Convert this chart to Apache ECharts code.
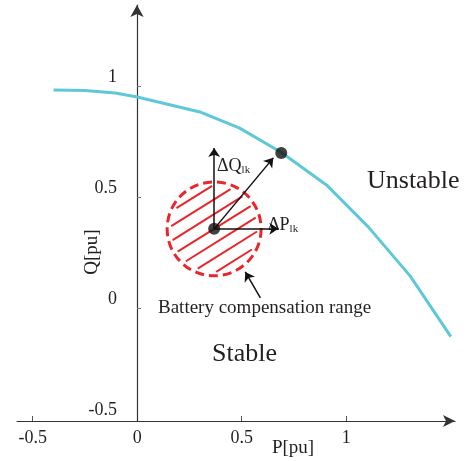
<!DOCTYPE html>
<html>
<head>
<meta charset="utf-8">
<script src="https://cdn.jsdelivr.net/npm/echarts@6/dist/echarts.min.js"></script>
<style>
  html, body { margin: 0; padding: 0; background: #fff; }
  #main { width: 468px; height: 461px; }
</style>
</head>
<body>
<div id="main"></div>
<script>
// 稳定边界曲线 (P, Q)
var curveP = [-0.40, -0.25, -0.105, 0, 0.30, 0.49, 0.69, 0.91, 1.105, 1.305, 1.50];
var curveQ = [0.982, 0.98, 0.968, 0.95, 0.883, 0.81, 0.70, 0.55, 0.365, 0.144, -0.13];
// 工作点 和 边界上的点
var dotP = [0.368, 0.689];
var dotQ = [0.356, 0.698];
// 箭头 起点/终点
var arrowFromP = [0.368, 0.368, 0.368, 0.589];
var arrowFromQ = [0.356, 0.356, 0.356, 0.045];
var arrowToP = [0.368, 0.675, 0.651, 0.517];
var arrowToQ = [0.721, 0.356, 0.676, 0.162];
// 刻度
var xTicks = [-0.5, 0, 0.5, 1];
var yTicks = [-0.5, 0, 0.5, 1];

var font = 'Liberation Serif';
var ink = '#231f20';

var curveData = curveP.map(function(p, i){ return [p, curveQ[i]]; });
var dotData = dotP.map(function(p, i){ return [p, dotQ[i]]; });
var arrowData = arrowFromP.map(function(p, i){
    return { coords: [[p, arrowFromQ[i]], [arrowToP[i], arrowToQ[i]]] };
});

var myChart = echarts.init(document.getElementById('main'));
var option = {
    animation: false,
    grid: { left: 17, right: 13, top: 5, bottom: 40, containLabel: false, outerBoundsMode: 'none' },
    xAxis: {
        type: 'value',
        min: -0.575,
        max: 1.52,
        axisLine: {
            onZero: false,
            lineStyle: { color: '#333', width: 1.2 },
            symbol: ['none', 'arrow'],
            symbolSize: [9, 12]
        },
        axisTick: { inside: true, length: 5, customValues: [-0.5, 0.5, 1], lineStyle: { color: '#555' } },
        axisLabel: { customValues: xTicks, margin: 8, fontFamily: font, fontSize: 18, color: ink },
        splitLine: { show: false }
    },
    yAxis: {
        type: 'value',
        min: -0.51,
        max: 1.365,
        offset: -120,
        axisLine: {
            onZero: false,
            lineStyle: { color: '#333', width: 1.2 },
            symbol: ['none', 'arrow'],
            symbolSize: [10, 12]
        },
        axisTick: { inside: true, length: 4, customValues: [0, 0.5, 1], lineStyle: { color: '#777' } },
        axisLabel: {
            customValues: yTicks, margin: 20, verticalAlign: 'bottom',
            fontFamily: font, fontSize: 18, color: ink
        },
        splitLine: { show: false }
    },
    series: [
        {
            type: 'line',
            data: curveData,
            symbol: 'none',
            lineStyle: { color: '#5ec8d8', width: 3 },
            z: 2
        },
        {
            // 电池补偿范围
            type: 'custom',
            data: [[dotP[0], dotQ[0]]],
            renderItem: function(params, api){
                var c = api.coord([api.value(0), api.value(1)]);
                var r = 47, ri = 43, step = 12.5;
                var ang = -32 * Math.PI / 180;
                var dx = Math.cos(ang), dy = Math.sin(ang);
                var nx = -dy, ny = dx;
                var children = [];
                for (var k = -3; k <= 3; k++) {
                    var d = k * step;
                    var h = Math.sqrt(Math.max(ri * ri - d * d, 0));
                    if (h < 4) continue;
                    var mx = c[0] + nx * d, my = c[1] + ny * d;
                    children.push({
                        type: 'line',
                        shape: { x1: mx - dx * h, y1: my - dy * h, x2: mx + dx * h, y2: my + dy * h },
                        style: { stroke: '#e8262c', lineWidth: 2 }
                    });
                }
                children.push({
                    type: 'circle',
                    shape: { cx: c[0], cy: c[1], r: r },
                    style: { fill: 'none', stroke: '#e8262c', lineWidth: 3, lineDash: [9, 5] }
                });
                return { type: 'group', children: children };
            },
            z: 3
        },
        {
            type: 'lines',
            coordinateSystem: 'cartesian2d',
            data: arrowData,
            symbol: ['none', 'arrow'],
            symbolSize: 9,
            lineStyle: { color: '#111', width: 1.5, opacity: 1 },
            z: 4
        },
        {
            type: 'scatter',
            data: dotData,
            symbolSize: 12,
            itemStyle: { color: '#111' },
            z: 5
        }
    ],
    graphic: [
        { type: 'text', x: 367, y: 181, style: { text: 'Unstable', font: '26px ' + font, fill: ink, verticalAlign: 'middle' } },
        { type: 'text', x: 212, y: 354, style: { text: 'Stable', font: '26px ' + font, fill: ink, verticalAlign: 'middle' } },
        { type: 'text', x: 158, y: 308, style: { text: 'Battery compensation range', font: '19px ' + font, fill: ink, verticalAlign: 'middle' } },
        {
            type: 'text', x: 217, y: 156,
            style: {
                text: '{a|ΔQ}{b|lk}', fill: ink,
                rich: {
                    a: { fontFamily: font, fontSize: 18, color: ink },
                    b: { fontFamily: font, fontSize: 11, color: ink, padding: [9, 0, 0, 0] }
                }
            }
        },
        {
            type: 'text', x: 268, y: 215,
            style: {
                text: '{a|ΔP}{b|lk}', fill: ink,
                rich: {
                    a: { fontFamily: font, fontSize: 18, color: ink },
                    b: { fontFamily: font, fontSize: 11, color: ink, padding: [9, 0, 0, 0] }
                }
            }
        },
        { type: 'text', x: 92, y: 252, rotation: Math.PI / 2, style: { text: 'Q[pu]', font: '19px ' + font, fill: ink, align: 'center', verticalAlign: 'middle' } },
        { type: 'text', x: 293, y: 448, style: { text: 'P[pu]', font: '19px ' + font, fill: ink, align: 'center', verticalAlign: 'middle' } }
    ]
};
myChart.setOption(option);
</script>
</body>
</html>
